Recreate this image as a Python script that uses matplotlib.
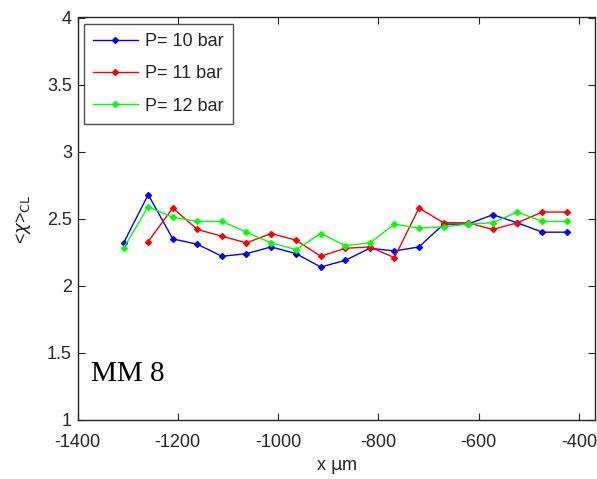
import matplotlib
matplotlib.use('Agg')
import matplotlib.pyplot as plt

# positions along the channel (um)
x_um = [-1308, -1259, -1210, -1161, -1112, -1063, -1014, -964, -915, -866,
        -817, -768, -719, -670, -621, -572, -523, -473, -424]

chi_10bar = [2.32, 2.68, 2.35, 2.31, 2.22, 2.24, 2.29, 2.24, 2.14, 2.19,
             2.28, 2.26, 2.29, 2.46, 2.46, 2.53, 2.47, 2.40, 2.40]
# 11 bar series starts at the second position
chi_11bar = [2.33, 2.58, 2.42, 2.37, 2.32, 2.39, 2.34, 2.22, 2.28,
             2.29, 2.21, 2.58, 2.47, 2.47, 2.42, 2.47, 2.55, 2.55]
chi_12bar = [2.28, 2.59, 2.51, 2.48, 2.48, 2.40, 2.32, 2.27, 2.39, 2.30,
             2.32, 2.46, 2.43, 2.44, 2.46, 2.47, 2.55, 2.48, 2.48]

labels = ['P= 10 bar', 'P= 11 bar', 'P= 12 bar']
colors = ['#0000ff', '#ff0000', '#00ff00']
x_ticks = [-1400, -1200, -1000, -800, -600, -400]
y_ticks = [1, 1.5, 2, 2.5, 3, 3.5, 4]

plt.rcParams['font.family'] = ['Liberation Sans', 'DejaVu Sans']

fig = plt.figure(figsize=(5.97, 4.79), dpi=100)
ax = fig.add_axes([77.5 / 597, 1 - 420 / 479, (595 - 77.5) / 597, (420 - 17.5) / 479])

series = [(x_um, chi_10bar), (x_um[1:], chi_11bar), (x_um, chi_12bar)]
for (xs, ys), lab, c in zip(series, labels, colors):
    ax.plot(xs, ys, color=c, lw=1, marker='D', ms=3, label=lab)

ax.set_xlim(-1400, -368)
ax.set_ylim(1, 4)
ax.set_xticks(x_ticks)
ax.set_xticklabels([str(t) for t in x_ticks])
ax.set_yticks(y_ticks)
ax.set_yticklabels(['1', '1.5', '2', '2.5', '3', '3.5', '4'])
ax.tick_params(direction='in', top=True, right=True, length=5, width=0.8,
               labelsize=13, colors='#262626')
ax.tick_params(axis='x', pad=10)
ax.tick_params(axis='y', pad=4)
for s in ax.spines.values():
    s.set_color('#262626')
    s.set_linewidth(1)

ax.set_xlabel(r'x $\mathrm{\mu}$m', fontsize=13, color='#262626', labelpad=5)
ax.set_ylabel(r'<$\chi$>$_{\mathrm{CL}}$', fontsize=13, color='#262626', labelpad=10)

ax.text(0.026, 0.097, 'MM 8', transform=ax.transAxes, fontsize=21,
        family='Liberation Serif', color='black', va='baseline')

leg = ax.legend(loc='upper left', fontsize=13, frameon=True, fancybox=False,
                edgecolor='#262626', borderaxespad=0.35, handlelength=2.5,
                labelspacing=0.85, borderpad=0.5, handletextpad=0.4)
leg.get_frame().set_linewidth(1)
for t in leg.get_texts():
    t.set_color('#262626')

fig.savefig('out.png', dpi=100)
